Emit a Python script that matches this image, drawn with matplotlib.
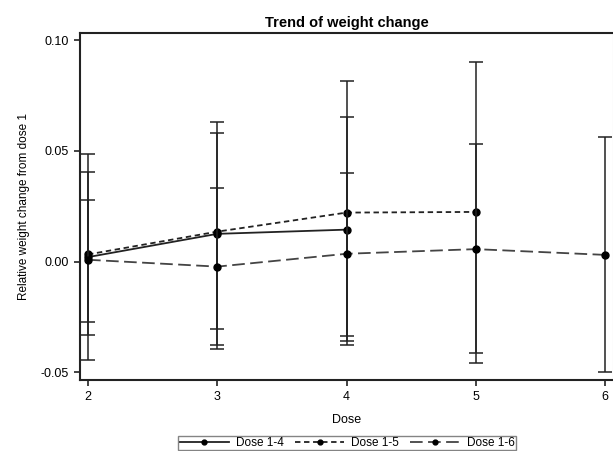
import matplotlib
matplotlib.use("Agg")
from matplotlib import pyplot as plt

plt.rcParams["font.family"] = ["Liberation Sans", "DejaVu Sans"]

doses = [2, 3, 4, 5, 6]

# dose 1-4
x_14 = [2, 3, 4]
y_14 = [0.0020, 0.0125, 0.0144]
hi_14 = [0.0278, 0.0331, 0.0402]
lo_14 = [-0.0272, -0.0305, -0.0338]

# dose 1-5
x_15 = [2, 3, 4, 5]
y_15 = [0.0032, 0.0135, 0.0221, 0.0224]
hi_15 = [0.0403, 0.0582, 0.0654, 0.0530]
lo_15 = [-0.0332, -0.0376, -0.0361, -0.0414]

# dose 1-6
x_16 = [2, 3, 4, 5, 6]
y_16 = [0.0008, -0.0023, 0.0035, 0.0056, 0.0030]
hi_16 = [0.0485, 0.0632, 0.0815, 0.0901, 0.0561]
lo_16 = [-0.0444, -0.0393, -0.0376, -0.0456, -0.0499]

series = [
    ("Dose 1-4", x_14, y_14, lo_14, hi_14, "-", "#222222"),
    ("Dose 1-5", x_15, y_15, lo_15, hi_15, (0, (3, 2)), "#222222"),
    ("Dose 1-6", x_16, y_16, lo_16, hi_16, (0, (7, 3)), "#444444"),
]

fig = plt.figure(figsize=(6.13, 4.51), dpi=100)
ax = fig.add_axes([80 / 613, 1 - 380 / 451, 533 / 613, 347 / 451])

for label, x, y, lo, hi, ls, col in series:
    yerr = [[m - l for m, l in zip(y, lo)], [h - m for m, h in zip(y, hi)]]
    ax.errorbar(x, y, yerr=yerr, fmt="none", ecolor="#222222",
                elinewidth=1.1, capsize=5, capthick=1.1)
    ax.plot(x, y, linestyle=ls, color=col, linewidth=1.3,
            marker="o", markersize=5, markerfacecolor="black",
            markeredgecolor="black", label=label)

ax.set_xlim(1.938, 6.062)
ax.set_ylim(-0.0535, 0.1032)
ax.set_xticks(doses)
ax.set_yticks([-0.05, 0.0, 0.05, 0.10])
ax.set_yticklabels(["-0.05", "0.00", "0.05", "0.10"])
ax.tick_params(labelsize=9, length=4, width=1.2, color="#222222", pad=4)
for s in ax.spines.values():
    s.set_linewidth(1.5)
    s.set_color("#222222")
ax.spines["right"].set_color("#cccccc")
ax.spines["right"].set_linewidth(0.8)

ax.set_title("Trend of weight change", fontsize=10.5, fontweight="bold", pad=4)
ax.set_xlabel("Dose", fontsize=9, labelpad=8)
ax.set_ylabel("Relative weight change from dose 1", fontsize=8.5, labelpad=8)

leg = fig.legend(loc="upper center", bbox_to_anchor=(347 / 613, 1 - 430 / 451),
                 ncol=3, fontsize=8.5, frameon=True, fancybox=False,
                 handlelength=4.2, columnspacing=0.9, borderpad=0.1,
                 handletextpad=0.6, edgecolor="#666666", markerscale=0.7)
leg.get_frame().set_linewidth(1.0)

fig.savefig("out.png", dpi=100)
